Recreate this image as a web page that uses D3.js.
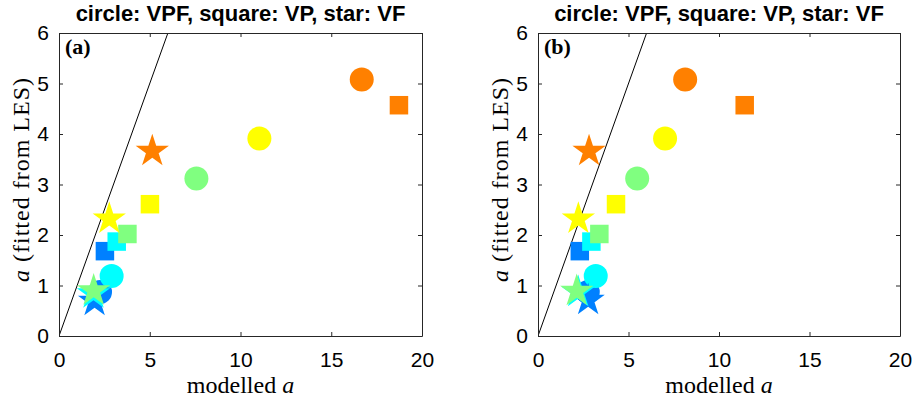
<!DOCTYPE html>
<html>
<head>
<meta charset="utf-8">
<script src="https://cdn.jsdelivr.net/npm/d3@7"></script>
<style>
body { margin: 0; background: #fff; }
svg { display: block; }
</style>
</head>
<body>
<div id="chart"></div>
<script>
var svgWidth = 916;
var svgHeight = 400;

// jet-like colours, one per case
var colors = ["#0080ff", "#00ffff", "#80ff80", "#ffff00", "#ff8000"];

var xTicks = [0, 5, 10, 15, 20];
var yTicks = [0, 1, 2, 3, 4, 5, 6];

// panel (a)
var circleX_a = [2.26, 2.90, 7.57, 11.04, 16.68];
var circleY_a = [0.87, 1.19, 3.12, 3.91, 5.08];
var squareX_a = [2.53, 3.18, 3.77, 5.01, 18.73];
var squareY_a = [1.68, 1.87, 2.02, 2.61, 4.57];
var starX_a = [1.96, 1.90, 1.91, 2.77, 5.14];
var starY_a = [0.69, 0.84, 0.90, 2.32, 3.66];

// panel (b)
var circleX_b = [2.75, 3.19, 5.48, 7.02, 8.13];
var circleY_b = [0.87, 1.19, 3.12, 3.91, 5.08];
var squareX_b = [2.31, 2.95, 3.39, 4.31, 11.42];
var squareY_b = [1.68, 1.87, 2.02, 2.61, 4.57];
var starX_b = [2.77, 2.22, 2.14, 2.23, 2.82];
var starY_b = [0.71, 0.87, 0.89, 2.32, 3.66];

var oneToOne = [[0, 0], [6, 6]];

var svg = d3.select("#chart")
    .append("svg")
    .attr("width", svgWidth)
    .attr("height", svgHeight);

var plotTop = 33, plotBottom = 336;
var axisColor = "#262626";
var sans = "Arial, 'Liberation Sans', sans-serif";
var serif = "'Liberation Serif', 'Times New Roman', serif";

function drawPanel(left, right, label, cx, cy, sx, sy, tx, ty, id) {
    var xScale = d3.scaleLinear().domain([0, 20]).range([left, right]);
    var yScale = d3.scaleLinear().domain([0, 6]).range([plotBottom, plotTop]);
    var g = svg.append("g");

    g.append("clipPath").attr("id", "clip" + id)
        .append("rect")
        .attr("x", left).attr("y", plotTop)
        .attr("width", right - left).attr("height", plotBottom - plotTop);

    // 1:1 line
    g.append("path")
        .datum(oneToOne)
        .attr("clip-path", "url(#clip" + id + ")")
        .attr("fill", "none")
        .attr("stroke", "#000")
        .attr("stroke-width", 1)
        .attr("d", d3.line().x(d => xScale(d[0])).y(d => yScale(d[1])));

    var marks = g.append("g");
    var circleSym = d3.symbol().type(d3.symbolCircle).size(Math.PI * 12 * 12);
    var squareSym = d3.symbol().type(d3.symbolSquare).size(18.5 * 18.5);
    var starSym = d3.symbol().type(d3.symbolStar).size(17.5 * 17.5 / 0.8908130915292852);

    function addMarks(xs, ys, sym) {
        marks.selectAll(null)
            .data(xs)
            .enter()
            .append("path")
            .attr("d", sym)
            .attr("transform", (d, i) => `translate(${xScale(d)},${yScale(ys[i])})`)
            .attr("fill", (d, i) => colors[i]);
    }
    addMarks(cx, cy, circleSym);
    addMarks(sx, sy, squareSym);
    addMarks(tx, ty, starSym);

    // box with inward ticks
    var axes = g.append("g");
    axes.append("g")
        .attr("transform", `translate(0,${plotBottom})`)
        .call(d3.axisBottom(xScale).tickValues(xTicks).tickSizeInner(-4).tickSizeOuter(0).tickPadding(16).tickFormat(d3.format("d")));
    axes.append("g")
        .attr("transform", `translate(0,${plotTop})`)
        .call(d3.axisTop(xScale).tickValues(xTicks).tickSizeInner(-4).tickSizeOuter(0).tickFormat(""));
    axes.append("g")
        .attr("transform", `translate(${left},0)`)
        .call(d3.axisLeft(yScale).tickValues(yTicks).tickSizeInner(-4).tickSizeOuter(0).tickPadding(10).tickFormat(d3.format("d")));
    axes.append("g")
        .attr("transform", `translate(${right},0)`)
        .call(d3.axisRight(yScale).tickValues(yTicks).tickSizeInner(-4).tickSizeOuter(0).tickFormat(""));
    axes.selectAll(".domain").attr("stroke", axisColor);
    axes.selectAll(".tick line").attr("stroke", axisColor);
    axes.selectAll(".tick text")
        .attr("fill", "#000")
        .style("font-family", sans)
        .style("font-size", "21px");

    // title
    g.append("text")
        .attr("x", (left + right) / 2)
        .attr("y", 21)
        .attr("text-anchor", "middle")
        .style("font-family", sans)
        .style("font-weight", "bold")
        .style("font-size", "22px")
        .text("circle: VPF, square: VP, star: VF");

    // panel label
    g.append("text")
        .attr("x", left + 6)
        .attr("y", 54)
        .style("font-family", serif)
        .style("font-weight", "bold")
        .style("font-size", "22px")
        .text(label);

    // x label
    var xl = g.append("text")
        .attr("x", (left + right) / 2)
        .attr("y", 393)
        .attr("text-anchor", "middle")
        .style("font-family", serif)
        .style("font-size", "24px");
    xl.append("tspan").text("modelled ");
    xl.append("tspan").style("font-style", "italic").text("a");

    // y label
    var yl = g.append("text")
        .attr("transform", `translate(${left - 30},${(plotTop + plotBottom) / 2 - 5}) rotate(-90)`)
        .attr("text-anchor", "middle")
        .style("font-family", serif)
        .style("font-size", "24px")
        .style("letter-spacing", "1px");
    yl.append("tspan").style("font-style", "italic").text("a");
    yl.append("tspan").text(" (fitted from LES)");
}

drawPanel(59, 422, "(a)", circleX_a, circleY_a, squareX_a, squareY_a, starX_a, starY_a, "a");
drawPanel(538, 900, "(b)", circleX_b, circleY_b, squareX_b, squareY_b, starX_b, starY_b, "b");
</script>
</body>
</html>
